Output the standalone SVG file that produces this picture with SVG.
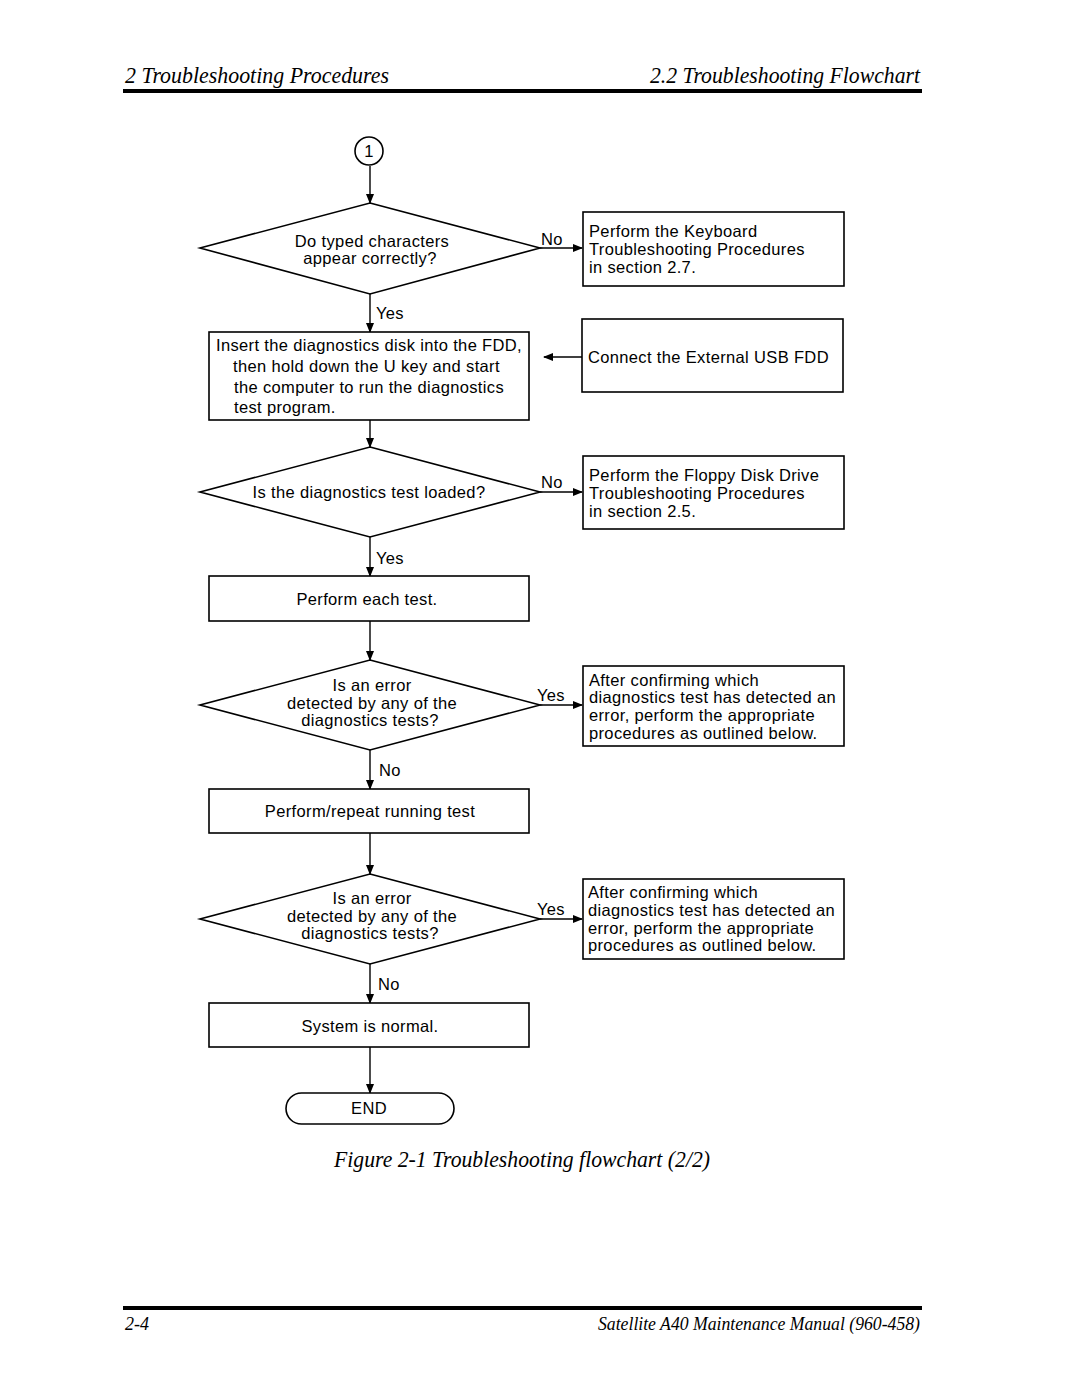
<svg xmlns="http://www.w3.org/2000/svg" width="1080" height="1397" viewBox="0 0 1080 1397">
<defs>
<marker id="ah" markerWidth="10" markerHeight="8" refX="9" refY="4" orient="auto" markerUnits="userSpaceOnUse">
<path d="M0,0 L10,4 L0,8 Z" fill="#000"/>
</marker>
<style>
.t{font-family:"Liberation Sans",Arial,sans-serif;font-size:16.5px;letter-spacing:0.35px;fill:#000}
.c{text-anchor:middle}
.s{fill:#fff;stroke:#000;stroke-width:1.6}
.ln{fill:none;stroke:#000;stroke-width:1.4}
.hd{font-family:"Liberation Serif","Times New Roman",serif;font-style:italic;fill:#000}
</style>
</defs>
<rect width="1080" height="1397" fill="#fff"/>
<g id="header">
<text class="hd" x="125" y="83" font-size="23" textLength="264" lengthAdjust="spacingAndGlyphs">2  Troubleshooting Procedures</text>
<text class="hd" x="920" y="83" font-size="23" text-anchor="end" textLength="270" lengthAdjust="spacingAndGlyphs">2.2  Troubleshooting Flowchart</text>
<rect x="123" y="89" width="799" height="4" fill="#000"/>
</g>
<g id="connectors">
<line class="ln" x1="370" y1="166" x2="370" y2="203" marker-end="url(#ah)"/>
<line class="ln" x1="540" y1="248" x2="582" y2="248" marker-end="url(#ah)"/>
<text class="t" x="541" y="245">No</text>
<line class="ln" x1="370" y1="294" x2="370" y2="332" marker-end="url(#ah)"/>
<text class="t" x="376" y="319">Yes</text>
<line class="ln" x1="582" y1="357" x2="544" y2="357" marker-end="url(#ah)"/>
<line class="ln" x1="370" y1="420" x2="370" y2="447" marker-end="url(#ah)"/>
<line class="ln" x1="540" y1="492" x2="582" y2="492" marker-end="url(#ah)"/>
<text class="t" x="541" y="488">No</text>
<line class="ln" x1="370" y1="537" x2="370" y2="576" marker-end="url(#ah)"/>
<text class="t" x="376" y="564">Yes</text>
<line class="ln" x1="370" y1="621" x2="370" y2="660" marker-end="url(#ah)"/>
<line class="ln" x1="540" y1="705" x2="582" y2="705" marker-end="url(#ah)"/>
<text class="t" x="537" y="701">Yes</text>
<line class="ln" x1="370" y1="750" x2="370" y2="789" marker-end="url(#ah)"/>
<text class="t" x="379" y="776">No</text>
<line class="ln" x1="370" y1="833" x2="370" y2="874" marker-end="url(#ah)"/>
<line class="ln" x1="540" y1="919" x2="582" y2="919" marker-end="url(#ah)"/>
<text class="t" x="537" y="915">Yes</text>
<line class="ln" x1="370" y1="964" x2="370" y2="1003" marker-end="url(#ah)"/>
<text class="t" x="378" y="990">No</text>
<line class="ln" x1="370" y1="1047" x2="370" y2="1093" marker-end="url(#ah)"/>
</g>
<g id="start">
<circle class="s" cx="369" cy="151" r="14"/>
<text class="t c" x="369" y="157">1</text>
</g>
<g id="q1">
<polygon class="s" points="370,203 540,248 370,294 200,248"/>
<text class="t c" x="372" y="247">Do typed characters</text>
<text class="t c" x="370" y="264">appear correctly?</text>
</g>
<g id="keyboard">
<rect class="s" x="583" y="212" width="261" height="74"/>
<text class="t" x="589" y="237">Perform the Keyboard</text>
<text class="t" x="589" y="255">Troubleshooting Procedures</text>
<text class="t" x="589" y="273">in section 2.7.</text>
</g>
<g id="insert">
<rect class="s" x="209" y="332" width="320" height="88"/>
<text class="t" x="216" y="351">Insert the diagnostics disk into the FDD,</text>
<text class="t" x="233" y="372">then hold down the U key and start</text>
<text class="t" x="234" y="393">the computer to run the diagnostics</text>
<text class="t" x="234" y="413">test program.</text>
</g>
<g id="usb">
<rect class="s" x="582" y="319" width="261" height="73"/>
<text class="t" x="588" y="363">Connect the External USB FDD</text>
</g>
<g id="q2">
<polygon class="s" points="370,447 540,492 370,537 200,492"/>
<text class="t c" x="369" y="498">Is the diagnostics test loaded?</text>
</g>
<g id="fdd">
<rect class="s" x="583" y="456" width="261" height="73"/>
<text class="t" x="589" y="481">Perform the Floppy Disk Drive</text>
<text class="t" x="589" y="499">Troubleshooting Procedures</text>
<text class="t" x="589" y="517">in section 2.5.</text>
</g>
<g id="each">
<rect class="s" x="209" y="576" width="320" height="45"/>
<text class="t c" x="367" y="605">Perform each test.</text>
</g>
<g id="q3">
<polygon class="s" points="370,660 540,705 370,750 200,705"/>
<text class="t c" x="372" y="691">Is an error</text>
<text class="t c" x="372" y="709">detected by any of the</text>
<text class="t c" x="370" y="726">diagnostics tests?</text>
</g>
<g id="err1">
<rect class="s" x="583" y="666" width="261" height="80"/>
<text class="t" x="589" y="686">After confirming which</text>
<text class="t" x="589" y="703">diagnostics test has detected an</text>
<text class="t" x="589" y="721">error, perform the appropriate</text>
<text class="t" x="589" y="739">procedures as outlined below.</text>
</g>
<g id="repeat">
<rect class="s" x="209" y="789" width="320" height="44"/>
<text class="t c" x="370" y="817">Perform/repeat running test</text>
</g>
<g id="q4">
<polygon class="s" points="370,874 540,919 370,964 200,919"/>
<text class="t c" x="372" y="904">Is an error</text>
<text class="t c" x="372" y="922">detected by any of the</text>
<text class="t c" x="370" y="939">diagnostics tests?</text>
</g>
<g id="err2">
<rect class="s" x="583" y="879" width="261" height="80"/>
<text class="t" x="588" y="898">After confirming which</text>
<text class="t" x="588" y="916">diagnostics test has detected an</text>
<text class="t" x="588" y="934">error, perform the appropriate</text>
<text class="t" x="588" y="951">procedures as outlined below.</text>
</g>
<g id="normal">
<rect class="s" x="209" y="1003" width="320" height="44"/>
<text class="t c" x="370" y="1032">System is normal.</text>
</g>
<g id="end">
<rect class="s" x="286" y="1093" width="168" height="31" rx="15.5"/>
<text class="t c" x="369" y="1114">END</text>
</g>
<g id="footer">
<text class="hd" x="522" y="1167" font-size="23" text-anchor="middle" textLength="376" lengthAdjust="spacingAndGlyphs">Figure 2-1  Troubleshooting flowchart (2/2)</text>
<rect x="123" y="1306" width="799" height="4" fill="#000"/>
<text class="hd" x="125" y="1330" font-size="19" textLength="24" lengthAdjust="spacingAndGlyphs">2-4</text>
<text class="hd" x="920" y="1330" font-size="19" text-anchor="end" textLength="322" lengthAdjust="spacingAndGlyphs">Satellite A40 Maintenance Manual (960-458)</text>
</g>
</svg>
